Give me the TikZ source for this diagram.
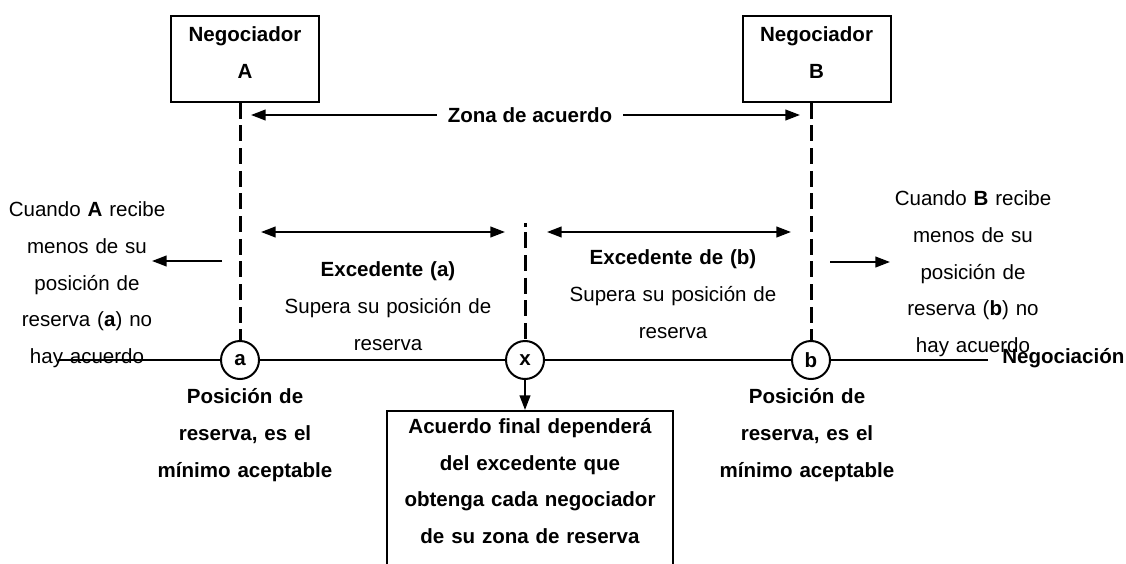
\documentclass[tikz,border=0pt]{standalone}
\usepackage{fontspec}
\setmainfont{Liberation Sans}
\usetikzlibrary{arrows.meta}

\tikzset{
  lbl/.style={font=\fontsize{15.4pt}{27.5pt}\selectfont, align=center, inner sep=0pt, text width=190pt},
  lblb/.style={lbl, font=\fontsize{15.4pt}{27.5pt}\selectfont\bfseries},
  negbox/.style={lblb, draw, line width=1.5pt, text width=111pt, inner ysep=8pt, text depth=37.2pt, anchor=north},
  respt/.style={circle, draw, line width=1.5pt, fill=white, minimum size=28.5pt, inner sep=0pt, font=\fontsize{15.4pt}{18pt}\selectfont\bfseries},
  guide/.style={line width=2.25pt, dash pattern=on 12pt off 5pt},
  arr/.style={line width=1.5pt, -{Triangle[length=11pt, width=8pt]}},
  darr/.style={line width=1.5pt, {Triangle[length=11pt, width=8pt]}-{Triangle[length=11pt, width=8pt]}},
}

\begin{document}
\begin{tikzpicture}[x=0.75pt, y=-0.75pt]
		\useasboundingbox (0,0) rectangle (1126,563);
		\clip (0,0) rectangle (1126,563);
		% The two negotiators
		\node [negbox] (negA) at (245,15) {Negociador\\A};
		\node [negbox] (negB) at (816.5,15) {Negociador\\B};
		% Reservation points on the negotiation line
		\node [respt] (a) at (240,360) {a};
		\node [respt] (x) at (525,360) {x};
		\node [respt] (b) at (811,360) {b};
		\node [font=\fontsize{15.4pt}{18pt}\selectfont\bfseries, inner xsep=10.5pt, inner ysep=0pt, anchor=west] (neg) at (988,358) {Negociación};
		\coordinate (start) at (58,360);
		\draw [line width=1.5pt] (start) -- (a) -- (x) -- (b) -- (neg.west |- b);
		% Dashed guides
		\draw [guide] (negA.south -| a) -- (a);
		\draw [guide] (negB.south -| b) -- (b);
		\coordinate (xtop) at (525,223);
		\draw [guide, dash pattern=on 3pt off 4pt on 12pt off 5pt on 12pt off 5pt on 12pt off 5pt on 12pt off 5pt on 12pt off 5pt] (xtop) -- (x);
		% Agreement zone
		\node [font=\fontsize{15.4pt}{18pt}\selectfont\bfseries, inner xsep=8pt, inner ysep=0pt] (zona) at (530,115) {Zona de acuerdo};
		\coordinate (zonaA) at (251,115);
		\coordinate (zonaB) at (800,115);
		\draw [arr] (zona.west) -- (zonaA);
		\draw [arr] (zona.east) -- (zonaB);
		% Surplus of each side
		\coordinate (exaL) at (261,232);
		\coordinate (exaR) at (505,232);
		\coordinate (exbL) at (547,232);
		\coordinate (exbR) at (791,232);
		\draw [darr] (exaL) -- (exaR);
		\draw [darr] (exbL) -- (exbR);
		\node [lbl] (exa) at (388,306) {\textbf{Excedente (a)}\\Supera su posición de\\reserva};
		\node [lbl] (exb) at (673,294) {\textbf{Excedente de (b)}\\Supera su posición de\\reserva};
		% No agreement outside the zone
		\coordinate (outAs) at (222,261);
		\coordinate (outAe) at (152,261);
		\coordinate (outBs) at (830,262);
		\coordinate (outBe) at (890,262);
		\draw [arr] (outAs) -- (outAe);
		\draw [arr] (outBs) -- (outBe);
		\node [lbl] (noA) at (87,285) {Cuando \textbf{A} recibe\\menos de su\\posición de\\reserva (\textbf{a}) no\\hay acuerdo};
		\node [lbl] (noB) at (973,274) {Cuando \textbf{B} recibe\\menos de su\\posición de\\reserva (\textbf{b}) no\\hay acuerdo};
		% Reservation labels
		\node [lblb] (resA) at (245,435) {Posición de\\reserva, es el\\mínimo aceptable};
		\node [lblb] (resB) at (807,435) {Posición de\\reserva, es el\\mínimo aceptable};
		% Final agreement
		\node [lblb, draw, line width=1.5pt, text width=214.5pt, inner ysep=5.5pt, text depth=105pt, anchor=north] (final) at (530,410) {Acuerdo final dependerá\\del excedente que\\obtenga cada negociador\\de su zona de reserva};
		\draw [arr] (x.south) -- (x.south |- final.north);
\end{tikzpicture}
\end{document}
